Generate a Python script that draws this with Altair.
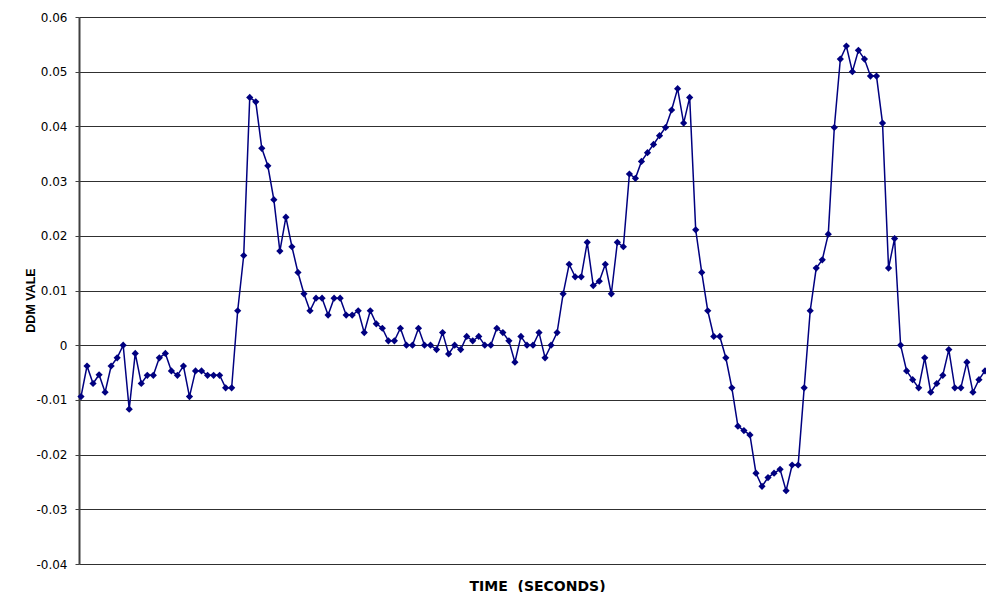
import altair as alt
import pandas as pd

# DDM values, one per sample (left to right)
ddm_values = [
    -0.0094, -0.0038, -0.0070, -0.0054, -0.0086, -0.0038, -0.0023, 0.0000, -0.0117, -0.0015,
    -0.0070, -0.0055, -0.0055, -0.0023, -0.0015, -0.0047, -0.0055, -0.0038, -0.0094, -0.0047,
    -0.0047, -0.0055, -0.0055, -0.0055, -0.0078, -0.0078, 0.0063, 0.0164, 0.0453, 0.0445,
    0.0360, 0.0328, 0.0266, 0.0172, 0.0234, 0.0180, 0.0133, 0.0094, 0.0063, 0.0086,
    0.0086, 0.0055, 0.0086, 0.0086, 0.0055, 0.0055, 0.0063, 0.0023, 0.0063, 0.0039,
    0.0031, 0.0008, 0.0008, 0.0031, 0.0000, 0.0000, 0.0031, 0.0000, 0.0000, -0.0008,
    0.0023, -0.0016, 0.0000, -0.0008, 0.0016, 0.0008, 0.0016, 0.0000, 0.0000, 0.0031,
    0.0023, 0.0008, -0.0031, 0.0016, 0.0000, 0.0000, 0.0023, -0.0023, 0.0000, 0.0023,
    0.0094, 0.0148, 0.0125, 0.0125, 0.0188, 0.0109, 0.0117, 0.0148, 0.0094, 0.0188,
    0.0180, 0.0313, 0.0305, 0.0336, 0.0352, 0.0367, 0.0383, 0.0398, 0.0430, 0.0469,
    0.0406, 0.0453, 0.0211, 0.0133, 0.0063, 0.0016, 0.0016, -0.0023, -0.0078, -0.0148,
    -0.0156, -0.0164, -0.0234, -0.0258, -0.0242, -0.0234, -0.0227, -0.0266, -0.0219, -0.0219,
    -0.0078, 0.0063, 0.0141, 0.0156, 0.0203, 0.0398, 0.0523, 0.0547, 0.0500, 0.0539,
    0.0523, 0.0492, 0.0492, 0.0406, 0.0141, 0.0195, 0.0000, -0.0047, -0.0063, -0.0078,
    -0.0023, -0.0086, -0.0070, -0.0055, -0.0008, -0.0078, -0.0078, -0.0031, -0.0086, -0.0063,
    -0.0047,
]
sample_index = list(range(1, len(ddm_values) + 1))

y_tick_values = [-0.04, -0.03, -0.02, -0.01, 0.0, 0.01, 0.02, 0.03, 0.04, 0.05, 0.06]

df = pd.DataFrame({"t": sample_index, "ddm": ddm_values})

navy = "#000080"

chart = (
    alt.Chart(df)
    .mark_line(
        color=navy,
        strokeWidth=1.5,
        point=alt.OverlayMarkDef(shape="diamond", size=52, filled=True, color=navy, opacity=1),
    )
    .encode(
        x=alt.X(
            "t:Q",
            scale=alt.Scale(domain=[0.668, 151.17], nice=False, zero=False),
            axis=alt.Axis(
                title="TIME \u00a0(SECONDS)",
                labels=False,
                ticks=False,
                domain=False,
                grid=False,
                titleFont="DejaVu Sans",
                titleFontSize=14,
                titleFontWeight="bold",
                titleColor="#000000",
                titleX=458,
                titleY=22,
                titleAlign="center",
                titleBaseline="middle",
            ),
        ),
        y=alt.Y(
            "ddm:Q",
            scale=alt.Scale(domain=[-0.04, 0.06], nice=False, zero=False),
            axis=alt.Axis(
                title="DDM VALE",
                values=y_tick_values,
                labelExpr="(datum.value < -0.000001 ? '-' : '') + format(abs(datum.value), '.2~f')",
                labelFont="DejaVu Sans",
                labelFontSize=12,
                labelColor="#000000",
                labelPadding=8,
                tickSize=4,
                tickColor="#404040",
                tickWidth=1,
                domainColor="#404040",
                domainWidth=2,
                grid=True,
                gridColor="#303030",
                gridWidth=1,
                gridOpacity=1,
                titleFont="Liberation Sans",
                titleFontSize=12.5,
                titleFontWeight="bold",
                titleColor="#000000",
                titleAngle=270,
                titleX=-49,
                titleY=283,
                titleAlign="center",
                titleBaseline="middle",
            ),
        ),
    )
    .properties(
        width=907,
        height=547,
        padding={"left": 71, "top": 9, "right": 0, "bottom": 28},
        autosize=alt.AutoSizeParams(type="none"),
    )
    .configure_view(stroke=None)
    .configure(background="#ffffff")
)

chart.save("out.html", embed_options={"renderer": "svg", "actions": False})
